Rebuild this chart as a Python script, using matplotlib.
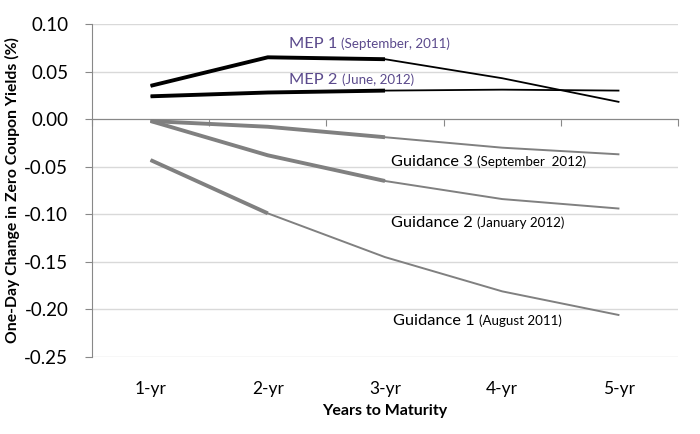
import matplotlib
matplotlib.use("Agg")
import matplotlib.pyplot as plt
import numpy as np

plt.rcParams['font.family'] = ['Lato', 'DejaVu Sans']

categories = ["1-yr", "2-yr", "3-yr", "4-yr", "5-yr"]
mep1 = [0.035, 0.065, 0.063, 0.043, 0.018]
mep2 = [0.024, 0.028, 0.030, 0.031, 0.030]
guid3 = [-0.002, -0.008, -0.019, -0.030, -0.037]
guid2 = [-0.002, -0.038, -0.065, -0.084, -0.094]
guid1 = [-0.043, -0.099, -0.145, -0.181, -0.206]
yticks = [0.10, 0.05, 0.00, -0.05, -0.10, -0.15, -0.20, -0.25]

fig = plt.figure(figsize=(7, 4.34), dpi=100)
ax = fig.add_axes([0.1314, 0.1774, 0.8372, 0.7673])

x = np.arange(len(categories))
series = [
    (mep1, 3, "black"),
    (mep2, 3, "black"),
    (guid3, 3, "#808080"),
    (guid2, 3, "#808080"),
    (guid1, 2, "#808080"),
]
for vals, nthick, col in series:
    ax.plot(x, vals, color=col, lw=1.3 if col == "black" else 1.4, solid_capstyle='butt', zorder=3)
    ax.plot(x[:nthick], vals[:nthick], color=col, lw=2.8, solid_capstyle='butt', zorder=4)

ax.set_xlim(-0.5, len(categories) - 0.5)
ax.set_ylim(-0.25, 0.10)
ax.set_yticks(yticks)
ax.set_yticklabels([f"{v:.2f}" for v in yticks], fontsize=13.5)
ax.yaxis.grid(True, color="#d9d9d9", lw=1.0)
ax.set_axisbelow(True)
ax.tick_params(axis='y', length=5, color="#888888", pad=12)

for s in ["top", "right"]:
    ax.spines[s].set_visible(False)
ax.spines["left"].set_color("#888888")
ax.spines["bottom"].set_position(("data", 0))
ax.spines["bottom"].set_color("#888888")
ax.set_xticks(np.arange(len(categories) + 1) - 0.5)
ax.set_xticklabels([])
ax.tick_params(axis='x', length=5, color="#888888", direction='out')

sec = ax.secondary_xaxis('bottom')
sec.set_xticks(x)
sec.set_xticklabels(categories, fontsize=12.5)
sec.tick_params(length=0, pad=17)
sec.spines['bottom'].set_visible(False)
sec.set_xlabel("Years to Maturity", fontsize=11.5, fontweight='bold', labelpad=5)

ax.set_ylabel("One-Day Change in Zero Coupon Yields (%)", fontsize=11.3, fontweight='bold', labelpad=3)

purple = "#5b4a8c"
labels = [
    (1.18, 0.079, "MEP 1", "(September, 2011)", purple),
    (1.18, 0.041, "MEP 2", "(June, 2012)", purple),
    (2.05, -0.045, "Guidance 3", "(September  2012)", "black"),
    (2.05, -0.109, "Guidance 2", "(January 2012)", "black"),
    (2.07, -0.212, "Guidance 1", "(August 2011)", "black"),
]
for lx, ly, big, small, col in labels:
    t = ax.text(lx, ly, big + " ", fontsize=11.8, color=col, va='center', ha='left', zorder=5)
    ax.annotate(small, xy=(1, 0.5), xycoords=t, fontsize=9.6, color=col,
                va='center', ha='left', zorder=5)

fig.savefig("out.png", dpi=100)
